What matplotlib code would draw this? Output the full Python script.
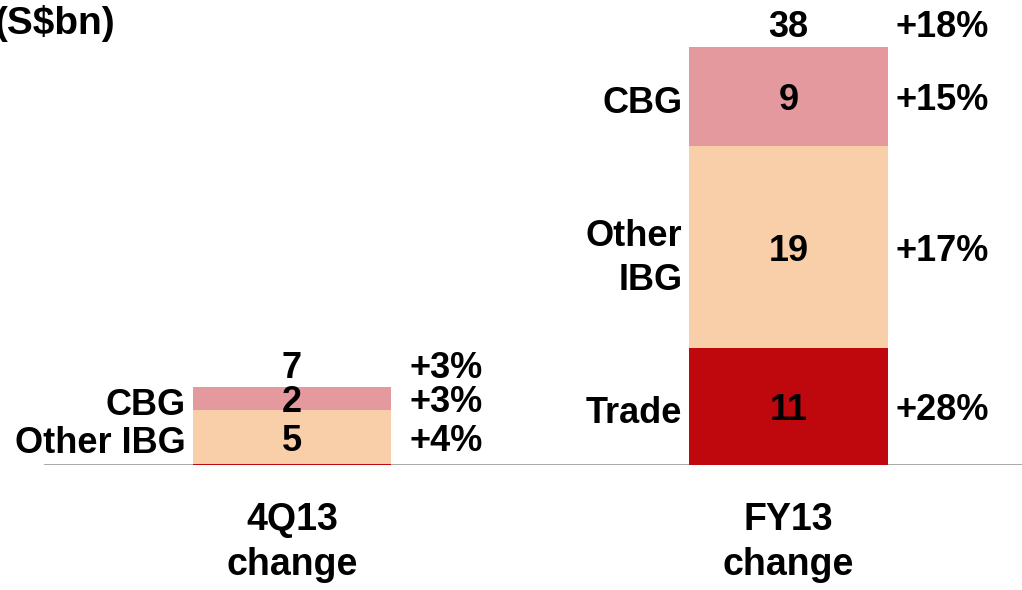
import matplotlib
matplotlib.use("Agg")
import matplotlib.pyplot as plt
from matplotlib import font_manager

# ---- data ----
periods = ["4Q13\nchange", "FY13\nchange"]
segments = ["Trade", "Other IBG", "CBG"]
trade = [0.1, 10.7]
other_ibg = [4.9, 18.4]
cbg = [2.1, 9.1]
trade_labels = [None, "11"]
other_labels = ["5", "19"]
cbg_labels = ["2", "9"]
total_labels = ["7", "38"]
trade_pct = [None, "+28%"]
other_pct = ["+4%", "+17%"]
cbg_pct = ["+3%", "+15%"]
total_pct = ["+3%", "+18%"]
seg_names_left = [
    {"Trade": None, "Other IBG": "Other IBG", "CBG": "CBG"},
    {"Trade": "Trade", "Other IBG": "Other\nIBG", "CBG": "CBG"},
]
unit_title = "(S$bn)"

colors = {"Trade": "#BE080E", "Other IBG": "#F8CFA8", "CBG": "#E3999D"}

names = {f.name for f in font_manager.fontManager.ttflist}
FONT = "Liberation Sans" if "Liberation Sans" in names else "DejaVu Sans"
NARROW = "Liberation Sans Narrow" if "Liberation Sans Narrow" in names else FONT
plt.rcParams["font.family"] = [FONT, "DejaVu Sans"]

fig = plt.figure(figsize=(10.22, 5.90), dpi=100)
ax = fig.add_axes([0, 125 / 590, 1, 465 / 590])
x = [0, 1]
width = 0.4

series = [("Trade", trade, trade_labels, trade_pct),
          ("Other IBG", other_ibg, other_labels, other_pct),
          ("CBG", cbg, cbg_labels, cbg_pct)]
bottoms = [0.0, 0.0]
FS = 26
VA = "center_baseline"
for name, vals, labs, pcts in series:
    ax.bar(x, vals, width, bottom=bottoms, color=colors[name], edgecolor="none", zorder=2)
    for i in range(2):
        mid = bottoms[i] + vals[i] / 2
        if labs[i] is not None:
            ax.text(x[i], mid, labs[i], ha="center", va=VA, fontsize=FS,
                    fontweight="bold", zorder=3)
        if pcts[i] is not None:
            ax.text(x[i] + 0.31, mid, pcts[i], ha="center", va=VA, fontsize=FS,
                    fontweight="bold")
        left = seg_names_left[i][name]
        if left is not None:
            ax.annotate(left, (x[i] - width / 2, mid), xytext=(-5, -2),
                        textcoords="offset points", ha="right", va=VA,
                        fontsize=FS, fontweight="bold", linespacing=1.35)
    bottoms = [b + v for b, v in zip(bottoms, vals)]

for i in range(2):
    ax.annotate(total_labels[i], (x[i], bottoms[i]), xytext=(0, 1),
                textcoords="offset points", ha="center", va="bottom",
                fontsize=FS, fontweight="bold")
    ax.annotate(total_pct[i], (x[i] + 0.31, bottoms[i]), xytext=(0, 1),
                textcoords="offset points", ha="center", va="bottom",
                fontsize=FS, fontweight="bold")

ax.axhline(0, xmin=0.044, xmax=1, color="#A0A0A0", lw=2, zorder=1)

ax.set_xlim(-0.588, 1.470)
ax.set_ylim(0, 42.47)
ax.set_xticks(x)
ax.set_xticklabels(periods, fontsize=27, fontweight="bold", family=NARROW,
                   linespacing=1.3)
ax.tick_params(axis="x", length=0, pad=27)
ax.set_yticks([])
for s in ax.spines.values():
    s.set_visible(False)
ax.patch.set_visible(False)

fig.text(-0.006, 1 - 23 / 590, unit_title, ha="left", va="center",
         fontsize=28, fontweight="bold")

fig.savefig("out.png", dpi=100)
